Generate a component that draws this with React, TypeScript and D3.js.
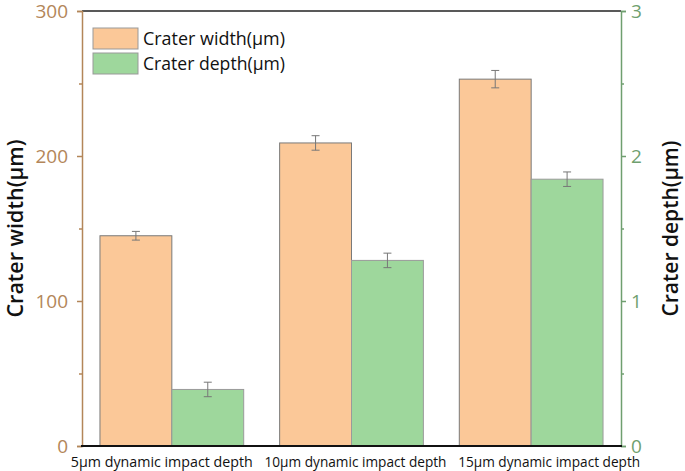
import React, { useEffect, useRef } from 'react';
import * as d3 from 'd3';

const categories = ['5μm dynamic impact depth', '10μm dynamic impact depth', '15μm dynamic impact depth'];
const widthValues = [145, 209, 253];
const widthErrors = [3, 5, 6];
const depthValues = [0.39, 1.28, 1.84];
const depthErrors = [0.05, 0.05, 0.05];
const leftTicks = [0, 100, 200, 300];
const rightTicks = [0, 1, 2, 3];

const W = 685;
const H = 471;
const margin = { top: 11, right: 64, bottom: 25, left: 82 };
const brown = '#b38659';
const green = '#6f9f6f';
const orangeFill = '#fbc898';
const greenFill = '#9ed79c';
const font = '"Open Sans", sans-serif';
// the category labels are wider than the bands and spread outward
const labelShift = [-10, 4, 18];

const App = () => {
  const ref = useRef<SVGSVGElement>(null);

  useEffect(() => {
    const svg = d3.select(ref.current);
    svg.selectAll('*').remove();

    const x0 = margin.left;
    const x1 = W - margin.right;
    const y0 = H - margin.bottom;
    const y1 = margin.top;

    const x = d3.scaleBand<string>().domain(categories).range([x0, x1]).paddingInner(0.2).paddingOuter(0.1);
    const yL = d3.scaleLinear().domain([0, 300]).range([y0, y1]);
    const yR = d3.scaleLinear().domain([0, 3]).range([y0, y1]);
    const bw = x.bandwidth() / 2;

    // bars
    const g = svg.append('g');
    categories.forEach((c, i) => {
      const bx = x(c)!;
      g.append('rect')
        .attr('x', bx).attr('y', yL(widthValues[i]))
        .attr('width', bw).attr('height', y0 - yL(widthValues[i]))
        .attr('fill', orangeFill).attr('stroke', '#7a7a7a').attr('stroke-width', 1);
      g.append('rect')
        .attr('x', bx + bw).attr('y', yR(depthValues[i]))
        .attr('width', bw).attr('height', y0 - yR(depthValues[i]))
        .attr('fill', greenFill).attr('stroke', '#9a9a9a').attr('stroke-width', 1);

      const errs = [
        { cx: bx + bw / 2, hi: yL(widthValues[i] + widthErrors[i]), lo: yL(widthValues[i] - widthErrors[i]) },
        { cx: bx + bw * 1.5, hi: yR(depthValues[i] + depthErrors[i]), lo: yR(depthValues[i] - depthErrors[i]) },
      ];
      errs.forEach((e) => {
        const eg = g.append('g').attr('stroke', '#777').attr('stroke-width', 1);
        eg.append('line').attr('x1', e.cx).attr('x2', e.cx).attr('y1', e.hi).attr('y2', e.lo);
        eg.append('line').attr('x1', e.cx - 4).attr('x2', e.cx + 4).attr('y1', e.hi).attr('y2', e.hi);
        eg.append('line').attr('x1', e.cx - 4).attr('x2', e.cx + 4).attr('y1', e.lo).attr('y2', e.lo);
      });
    });

    // top frame
    svg.append('line').attr('x1', x0).attr('x2', x1).attr('y1', y1).attr('y2', y1)
      .attr('stroke', '#222').attr('stroke-width', 1.5);

    // left axis
    const left = svg.append('g').attr('transform', `translate(${x0},0)`);
    left.call(d3.axisLeft(yL).tickValues(d3.range(0, 301, 50)).tickSize(5).tickFormat(() => ''));
    left.select('.domain').attr('stroke', brown).attr('stroke-width', 1.5);
    left.selectAll('.tick line').attr('stroke', brown).attr('stroke-width', 1.5);
    left.selectAll('.tick').filter((d: any) => d % 100 !== 0).select('line').attr('x2', -3);
    leftTicks.forEach((t) => {
      left.append('text').attr('x', -14).attr('y', yL(t)).attr('dy', '0.36em')
        .attr('text-anchor', 'end').attr('fill', brown).attr('font-size', 19).attr('font-family', font).text(t);
    });

    // right axis
    const right = svg.append('g').attr('transform', `translate(${x1},0)`);
    right.call(d3.axisRight(yR).tickValues(d3.range(0, 3.01, 0.5)).tickSize(5).tickFormat(() => ''));
    right.select('.domain').attr('stroke', green).attr('stroke-width', 1.5);
    right.selectAll('.tick line').attr('stroke', green).attr('stroke-width', 1.5);
    right.selectAll('.tick').filter((d: any) => d % 1 !== 0).select('line').attr('x2', 3);
    rightTicks.forEach((t) => {
      right.append('text').attr('x', 10).attr('y', yR(t)).attr('dy', '0.36em')
        .attr('text-anchor', 'start').attr('fill', green).attr('font-size', 19).attr('font-family', font).text(t);
    });

    // bottom axis
    svg.append('line').attr('x1', x0 - 1).attr('x2', x1 + 1).attr('y1', y0).attr('y2', y0)
      .attr('stroke', '#111').attr('stroke-width', 2);
    categories.forEach((c, i) => {
      svg.append('text').attr('x', x(c)! + x.bandwidth() / 2 + labelShift[i]).attr('y', y0 + 21)
        .attr('text-anchor', 'middle').attr('font-size', 15).attr('font-family', font)
        .attr('fill', '#111').attr('textLength', 182).attr('lengthAdjust', 'spacingAndGlyphs').text(c);
    });

    // axis titles
    svg.append('text').attr('transform', `translate(23,${(y0 + y1) / 2}) rotate(-90)`)
      .attr('text-anchor', 'middle').attr('font-size', 21).attr('font-weight', 600)
      .attr('font-family', font).attr('fill', '#111')
      .attr('textLength', 178).attr('lengthAdjust', 'spacingAndGlyphs').text('Crater width(μm)');
    svg.append('text').attr('transform', `translate(678,${(y0 + y1) / 2}) rotate(-90)`)
      .attr('text-anchor', 'middle').attr('font-size', 21).attr('font-weight', 600)
      .attr('font-family', font).attr('fill', '#111')
      .attr('textLength', 176).attr('lengthAdjust', 'spacingAndGlyphs').text('Crater depth(μm)');

    // legend
    const legend = [
      { label: 'Crater width(μm)', fill: orangeFill },
      { label: 'Crater depth(μm)', fill: greenFill },
    ];
    legend.forEach((l, i) => {
      const ly = 28 + i * 25;
      svg.append('rect').attr('x', 93).attr('y', ly).attr('width', 45).attr('height', 21)
        .attr('fill', l.fill).attr('stroke', '#999').attr('stroke-width', 1);
      svg.append('text').attr('x', 143).attr('y', ly + 11).attr('dy', '0.36em')
        .attr('font-size', 18).attr('font-family', font).attr('fill', '#111')
        .attr('textLength', 142).attr('lengthAdjust', 'spacingAndGlyphs').text(l.label);
    });
  }, []);

  return (
    <svg ref={ref} width={W} height={H} style={{ position: 'absolute', left: 0, top: 0, background: '#fff' }} />
  );
};

export default App;
